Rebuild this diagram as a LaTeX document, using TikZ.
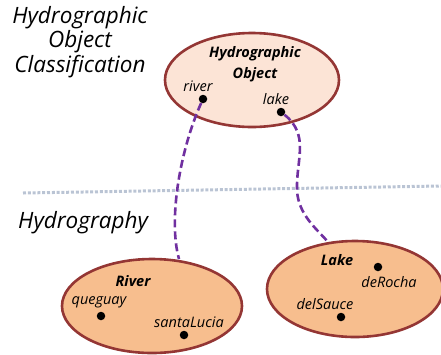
\documentclass[tikz,border=0pt]{standalone}
\usepackage{fontspec}
\setmainfont{Open Sans}
\begin{document}
\begin{tikzpicture}[x=1pt,y=-1pt,
  lbl/.style={font=\fontsize{14.5}{16}\selectfont\itshape,inner sep=0pt},
  ttl/.style={font=\fontsize{14.5}{21}\selectfont\bfseries\itshape,inner sep=0pt,align=center},
  big/.style={font=\fontsize{22.5}{24.5}\selectfont\itshape,inner sep=0pt,align=center},
  pt/.style={circle,fill=black,inner sep=0pt,minimum size=8.5pt},
  conn/.style={draw=pur,line width=2.6pt,dash pattern=on 8pt off 4pt}]
\definecolor{brd}{HTML}{943634}
\definecolor{lightfill}{HTML}{FCE4D6}
\definecolor{darkfill}{HTML}{F7BE8E}
\definecolor{pur}{HTML}{7030A0}
\definecolor{dotc}{HTML}{BAC4D4}
\useasboundingbox (0,0) rectangle (441,354);
% section line
\coordinate (ls) at (23,193);
\coordinate (le) at (441,186);
\draw[dotc,line width=3pt,dash pattern=on 3pt off 1.8pt] (ls) -- (le);
% titles
\node[big] (t1) at (80,42) {Hydrographic\\Object\\Classification};
\node[big,anchor=west] (t2) at (18,223) {Hydrography};
% top ellipse
\draw[brd,line width=2.6pt,fill=lightfill] (252,80) ellipse [x radius=87, y radius=47];
\node[ttl] (hoT) at (255,64) {Hydrographic\\Object};
\node[lbl] (rl) at (198,86) {river};
\node[pt] (rd) at (203,99) {};
\node[lbl] (ll) at (276,99) {lake};
\node[pt] (ld) at (281,112) {};
% river ellipse
\draw[brd,line width=2.6pt,fill=darkfill] (152,306) ellipse [x radius=90, y radius=47];
\node[ttl] (rv) at (133,281) {River};
\node[lbl] (q) at (99,302) {queguay};
\node[pt] (qd) at (101,316) {};
\node[lbl] (s) at (189,322) {santaLucia};
\node[pt] (sd) at (184,335) {};
% lake ellipse
\draw[brd,line width=2.6pt,fill=darkfill] (355,289) ellipse [x radius=88, y radius=48];
\node[ttl] (lk) at (337,260) {Lake};
\node[pt] (rod) at (378,267) {};
\node[lbl] (ro) at (389,282) {deRocha};
\node[lbl] (ds) at (325,304) {delSauce};
\node[pt] (dsd) at (341,317) {};
% connectors
\coordinate (rend) at (179,259);
\coordinate (lend) at (328,242);
\draw[conn] (rd) .. controls (180,150) and (168,220) .. (rend);
\draw[conn] (ld) .. controls (310,135) and (296,160) .. (297,190) .. controls (298,215) and (318,230) .. (lend);
\end{tikzpicture}
\end{document}
